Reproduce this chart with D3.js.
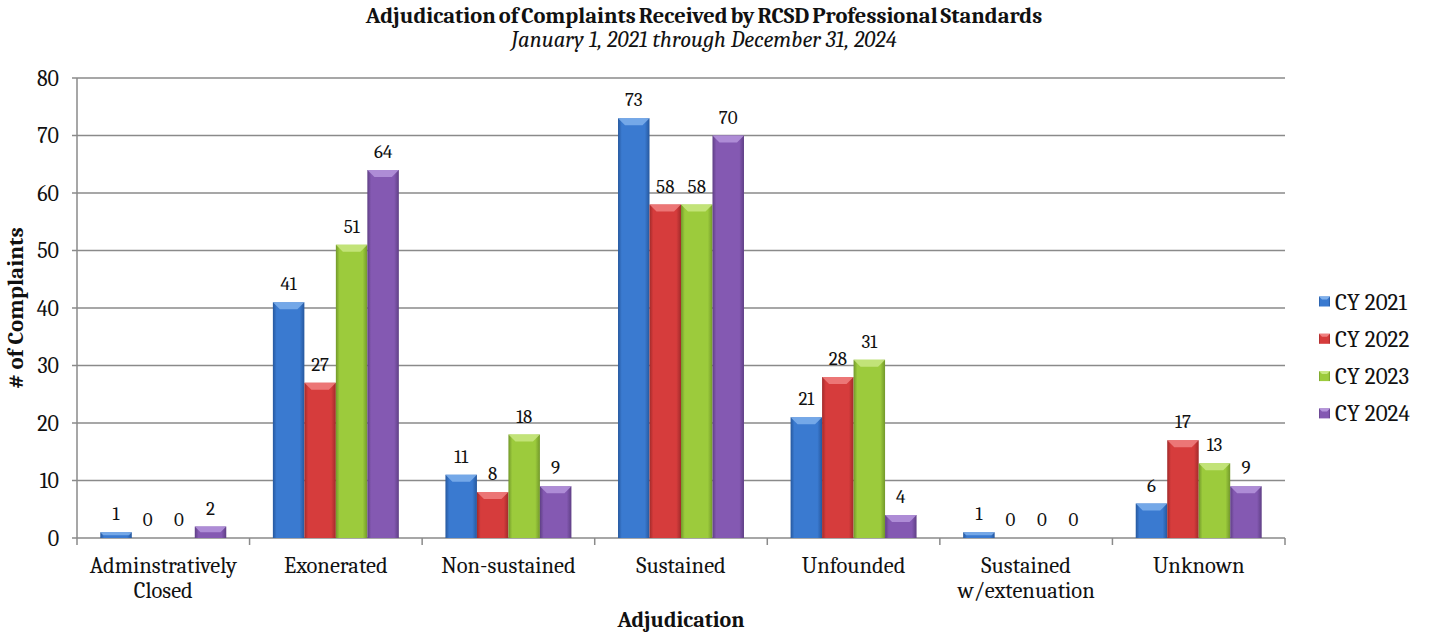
<!DOCTYPE html>
<html>
<head>
<meta charset="utf-8">
<script src="https://cdn.jsdelivr.net/npm/d3@7"></script>
<style>
  body { margin: 0; background: #fff; }
  svg text { font-family: Cambria, "DejaVu Serif", "Liberation Serif", serif; fill: #111; }
</style>
</head>
<body>
<div id="chart"></div>
<script>
const categories = ["Adminstratively Closed", "Exonerated", "Non-sustained", "Sustained", "Unfounded", "Sustained w/extenuation", "Unknown"];
const categoryLines = [["Adminstratively", "Closed"], ["Exonerated"], ["Non-sustained"], ["Sustained"], ["Unfounded"], ["Sustained", "w/extenuation"], ["Unknown"]];
const seriesNames = ["CY 2021", "CY 2022", "CY 2023", "CY 2024"];
const cy2021 = [1, 41, 11, 73, 21, 1, 6];
const cy2022 = [0, 27, 8, 58, 28, 0, 17];
const cy2023 = [0, 51, 18, 58, 31, 0, 13];
const cy2024 = [2, 64, 9, 70, 4, 0, 9];
const yTicks = [0, 10, 20, 30, 40, 50, 60, 70, 80];

const seriesValues = [cy2021, cy2022, cy2023, cy2024];
const colors = [
  { base: "#3a7ad0", dark: "#26589e", light: "#7fb0ec" },
  { base: "#d63c3c", dark: "#a12a2a", light: "#f08080" },
  { base: "#9ccb3c", dark: "#72982a", light: "#c9e883" },
  { base: "#8459b2", dark: "#5f3f85", light: "#b595dc" }
];

const width = 1429, height = 636;
const margin = { top: 78, right: 144, bottom: 98, left: 77 };

const svg = d3.select("#chart").append("svg")
  .attr("width", width)
  .attr("height", height);

const defs = svg.append("defs");
colors.forEach((c, i) => {
  const g = defs.append("linearGradient").attr("id", "bar" + i)
    .attr("x1", 0).attr("x2", 1).attr("y1", 0).attr("y2", 0);
  g.append("stop").attr("offset", "0%").attr("stop-color", c.dark);
  g.append("stop").attr("offset", "12%").attr("stop-color", c.base);
  g.append("stop").attr("offset", "85%").attr("stop-color", c.base);
  g.append("stop").attr("offset", "100%").attr("stop-color", c.dark);
});

const x0 = d3.scaleBand()
  .domain(categories)
  .range([margin.left, width - margin.right])
  .paddingInner(0)
  .paddingOuter(0);

const x1 = d3.scaleBand()
  .domain(seriesNames)
  .range([0, x0.bandwidth()])
  .paddingInner(0)
  .paddingOuter(0.74);

const y = d3.scaleLinear()
  .domain([0, 80])
  .range([height - margin.bottom, margin.top]);

// gridlines
svg.append("g")
  .selectAll("line")
  .data(yTicks)
  .join("line")
  .attr("x1", margin.left - 5)
  .attr("x2", width - margin.right)
  .attr("y1", d => y(d))
  .attr("y2", d => y(d))
  .attr("stroke", "#8a8a8a")
  .attr("stroke-width", 1.5);

// y axis line
svg.append("line")
  .attr("x1", margin.left).attr("x2", margin.left)
  .attr("y1", y(80)).attr("y2", y(0))
  .attr("stroke", "#8a8a8a").attr("stroke-width", 1.5);

// y tick labels
svg.append("g")
  .selectAll("text")
  .data(yTicks)
  .join("text")
  .attr("x", margin.left - 18)
  .attr("y", d => y(d))
  .attr("dy", "0.35em")
  .attr("text-anchor", "end")
  .style("font-size", "22px")
  .text(d => d);

// category ticks
const bounds = categories.map(c => x0(c)).concat([x0.range()[1]]);
svg.append("g")
  .selectAll("line")
  .data(bounds)
  .join("line")
  .attr("x1", d => d).attr("x2", d => d)
  .attr("y1", y(0)).attr("y2", y(0) + 7)
  .attr("stroke", "#8a8a8a").attr("stroke-width", 1.5);

// bars
const groups = svg.append("g")
  .selectAll("g")
  .data(categories)
  .join("g")
  .attr("transform", d => `translate(${x0(d)},0)`);

const barData = (cat, ci) => seriesNames.map((s, si) => ({ series: s, si, value: seriesValues[si][ci] }));

const bars = groups.selectAll("g.bar")
  .data((d, ci) => barData(d, ci))
  .join("g")
  .attr("class", "bar");

bars.filter(d => d.value > 0).append("rect")
  .attr("x", d => x1(d.series))
  .attr("y", d => y(d.value))
  .attr("width", x1.bandwidth())
  .attr("height", d => y(0) - y(d.value))
  .attr("fill", d => `url(#bar${d.si})`);

// bevel cap on top
bars.filter(d => d.value > 0).append("path")
  .attr("d", d => {
    const bx = x1(d.series), bw = x1.bandwidth(), by = y(d.value);
    const h = Math.min(7, (y(0) - by) / 2), inset = Math.min(7, h);
    return `M${bx},${by}L${bx + bw},${by}L${bx + bw - inset},${by + h}L${bx + inset},${by + h}Z`;
  })
  .attr("fill", d => colors[d.si].light)
  .attr("opacity", 0.85);

// data labels
bars.append("text")
  .attr("x", d => x1(d.series) + x1.bandwidth() / 2)
  .attr("y", d => y(d.value) - 12)
  .attr("text-anchor", "middle")
  .style("font-size", "19px")
  .text(d => d.value);

// category labels
const catLabels = svg.append("g")
  .selectAll("text")
  .data(categories)
  .join("text")
  .attr("x", d => x0(d) + x0.bandwidth() / 2)
  .attr("y", 573)
  .attr("text-anchor", "middle")
  .style("font-size", "22.5px");

catLabels.selectAll("tspan")
  .data((d, i) => categoryLines[i])
  .join("tspan")
  .attr("x", function () { return d3.select(this.parentNode).attr("x"); })
  .attr("dy", (d, i) => i === 0 ? 0 : 25)
  .text(d => d);

// axis titles
svg.append("text")
  .attr("x", (margin.left + width - margin.right) / 2)
  .attr("y", 627)
  .attr("text-anchor", "middle")
  .style("font-size", "22px")
  .style("font-weight", "bold")
  .text("Adjudication");

svg.append("text")
  .attr("transform", `translate(23,${(y(0) + y(80)) / 2}) rotate(-90)`)
  .attr("text-anchor", "middle")
  .style("font-size", "23px")
  .style("font-weight", "bold")
  .text("# of Complaints");

// titles
svg.append("text")
  .attr("x", 704)
  .attr("y", 23)
  .attr("text-anchor", "middle")
  .style("font-size", "22.5px")
  .style("font-weight", "bold")
  .style("word-spacing", "-2px")
  .text("Adjudication of Complaints Received by RCSD Professional Standards");

svg.append("text")
  .attr("x", 704)
  .attr("y", 47)
  .attr("text-anchor", "middle")
  .style("font-size", "22.5px")
  .style("font-style", "italic")
  .text("January 1, 2021 through December 31, 2024");

// legend
const legend = svg.append("g")
  .selectAll("g")
  .data(seriesNames)
  .join("g")
  .attr("transform", (d, i) => `translate(1319,${301.5 + i * 37.3})`);

legend.append("rect")
  .attr("x", 0).attr("y", -5)
  .attr("width", 11).attr("height", 10)
  .attr("fill", (d, i) => `url(#bar${i})`);

legend.append("path")
  .attr("d", "M0,-5L11,-5L8,-2L3,-2Z")
  .attr("fill", (d, i) => colors[i].light);

legend.append("text")
  .attr("x", 16)
  .attr("y", 0)
  .attr("dy", "0.35em")
  .style("font-size", "23px")
  .text(d => d);
</script>
</body>
</html>
